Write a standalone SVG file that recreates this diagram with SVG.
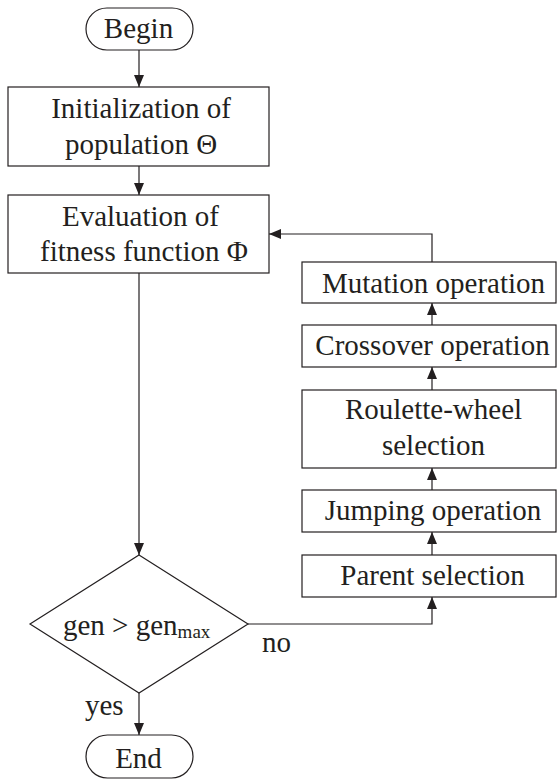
<svg xmlns="http://www.w3.org/2000/svg" width="557" height="780" viewBox="0 0 557 780">
  <style>
    .box { fill: #ffffff; stroke: #231f20; stroke-width: 1.2; }
    .wire { fill: none; stroke: #231f20; stroke-width: 1.2; }
    .lbl { font-size: 29px; fill: #231f20; text-anchor: middle; }
    .tag { font-size: 29px; fill: #231f20; }
  </style>
  <defs>
    <marker id="arrow" viewBox="0 0 12 10" refX="12" refY="5" markerWidth="12" markerHeight="10" markerUnits="userSpaceOnUse" orient="auto">
      <path d="M0,0 L12,5 L0,10 Z" fill="#231f20"/>
    </marker>
  </defs>

  <g id="connectors">
    <line class="wire" x1="139" y1="50" x2="139" y2="87" marker-end="url(#arrow)"/>
    <line class="wire" x1="139" y1="166" x2="139" y2="195" marker-end="url(#arrow)"/>
    <line class="wire" x1="139" y1="273" x2="139" y2="555" marker-end="url(#arrow)"/>
    <polyline class="wire" points="248,624 432,624 432,597" marker-end="url(#arrow)"/>
    <line class="wire" x1="432" y1="555" x2="432" y2="532" marker-end="url(#arrow)"/>
    <line class="wire" x1="432" y1="490" x2="432" y2="468" marker-end="url(#arrow)"/>
    <line class="wire" x1="432" y1="390" x2="432" y2="367" marker-end="url(#arrow)"/>
    <line class="wire" x1="432" y1="325" x2="432" y2="303" marker-end="url(#arrow)"/>
    <polyline class="wire" points="432,262 432,234 269,234" marker-end="url(#arrow)"/>
    <line class="wire" x1="139" y1="693" x2="139" y2="735" marker-end="url(#arrow)"/>
  </g>

  <g id="begin">
    <rect class="box" x="86" y="8" width="107" height="42" rx="21" ry="21"/>
    <text class="lbl" style="font-family:'Liberation Serif',serif" x="138.5" y="38">Begin</text>
  </g>

  <g id="init">
    <rect class="box" x="8" y="87" width="261" height="79"/>
    <text class="lbl" style="font-family:'Liberation Serif',serif" x="141" y="118">Initialization of</text>
    <text class="lbl" style="font-family:'Liberation Serif',serif" x="141" y="154">population Θ</text>
  </g>

  <g id="evaluate">
    <rect class="box" x="8" y="195" width="261" height="78"/>
    <text class="lbl" style="font-family:'Liberation Serif',serif" x="140.5" y="226">Evaluation of</text>
    <text class="lbl" style="font-family:'Liberation Serif',serif" x="144" y="261">fitness function Φ</text>
  </g>

  <g id="mutation">
    <rect class="box" x="302" y="262" width="254" height="41"/>
    <text class="lbl" style="font-family:'Liberation Serif',serif" x="433.5" y="293">Mutation operation</text>
  </g>

  <g id="crossover">
    <rect class="box" x="302" y="325" width="254" height="42"/>
    <text class="lbl" style="font-family:'Liberation Serif',serif" x="432.5" y="355">Crossover operation</text>
  </g>

  <g id="roulette">
    <rect class="box" x="302" y="390" width="254" height="78"/>
    <text class="lbl" style="font-family:'Liberation Serif',serif" x="433.5" y="419">Roulette-wheel</text>
    <text class="lbl" style="font-family:'Liberation Serif',serif" x="433.5" y="455">selection</text>
  </g>

  <g id="jumping">
    <rect class="box" x="302" y="490" width="254" height="42"/>
    <text class="lbl" style="font-family:'Liberation Serif',serif" x="433" y="520">Jumping operation</text>
  </g>

  <g id="parent">
    <rect class="box" x="302" y="555" width="254" height="42"/>
    <text class="lbl" style="font-family:'Liberation Serif',serif" x="432.5" y="585">Parent selection</text>
  </g>

  <g id="decision">
    <polygon class="box" points="139,555 248,624 139,693 30,624"/>
    <text class="tag" style="font-family:'Liberation Serif',serif" x="63" y="635">gen &gt; gen<tspan font-size="19px" dy="3">max</tspan></text>
    <text class="tag" style="font-family:'Liberation Serif',serif" x="262" y="652">no</text>
    <text class="tag" style="font-family:'Liberation Serif',serif" x="85" y="715">yes</text>
  </g>

  <g id="end">
    <rect class="box" x="86" y="735" width="107" height="43" rx="21.5" ry="21.5"/>
    <text class="lbl" style="font-family:'Liberation Serif',serif" x="138.5" y="768">End</text>
  </g>
</svg>
